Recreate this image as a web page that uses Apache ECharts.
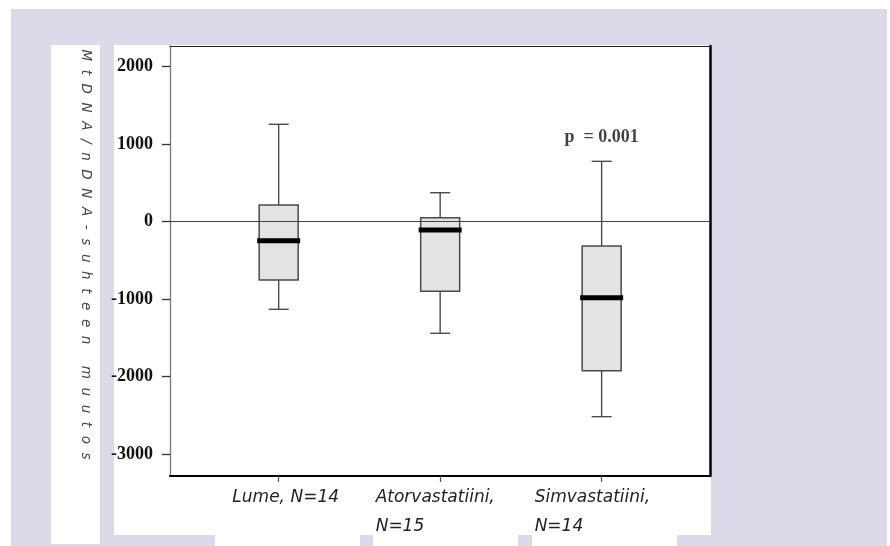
<!DOCTYPE html>
<html>
<head>
<meta charset="utf-8">
<script src="https://cdn.jsdelivr.net/npm/echarts@6/dist/echarts.min.js"></script>
<style>html,body{margin:0;padding:0;background:#fff;}#c{width:890px;height:546px;}</style>
</head>
<body>
<div id="c"></div>
<script>
// ---- data ----
var categories = ['Lume, N=14', 'Atorvastatiini,\nN=15', 'Simvastatiini,\nN=14'];
var positions = [1, 2, 3];
var whiskerLow = [-1134, -1443, -2520];
var q1 = [-755, -901, -1926];
var median = [-248, -110, -984];
var q3 = [213, 49, -316];
var whiskerHigh = [1255, 372, 777];
var yTicks = [-3000, -2000, -1000, 0, 1000, 2000];
var pText = 'p  = 0.001';
var pPos = [3, 1091];
var yTitle = 'MtDNA/nDNA-suhteen muutos';

var rows = positions.map(function (p, i) {
  return [p, whiskerLow[i], q1[i], median[i], q3[i], whiskerHigh[i]];
});

var tags = ['l', 'a', 's'];
var sansI = {fontFamily: 'DejaVu Sans', fontStyle: 'italic', fontSize: 17, color: '#222', lineHeight: 29};

var chart = echarts.init(document.getElementById('c'), null, {renderer: 'canvas'});
var Y_MIN = -3286, Y_MAX = 2266, X_MIN = 0.327, X_MAX = 3.671;

var option = {
  backgroundColor: '#ffffff',
  animation: false,
  graphic: {
    elements: [
      {type: 'rect', z: -10, silent: true, shape: {x: 11, y: 9, width: 876, height: 537}, style: {fill: '#dcd9e8'}},
      {type: 'rect', z: -9, silent: true, shape: {x: 51, y: 45, width: 49, height: 499}, style: {fill: '#ffffff'}},
      {type: 'rect', z: -9, silent: true, shape: {x: 114, y: 45, width: 597, height: 490}, style: {fill: '#ffffff'}},
      {type: 'rect', z: -9, silent: true, shape: {x: 215, y: 534, width: 145, height: 12}, style: {fill: '#ffffff'}},
      {type: 'rect', z: -9, silent: true, shape: {x: 373, y: 534, width: 145, height: 12}, style: {fill: '#ffffff'}},
      {type: 'rect', z: -9, silent: true, shape: {x: 532, y: 534, width: 145, height: 12}, style: {fill: '#ffffff'}}
    ]
  },
  grid: {left: 170, top: 46, right: 180, bottom: 70, containLabel: false},
  xAxis: [{
    type: 'value', min: X_MIN, max: X_MAX, position: 'bottom',
    axisLine: {show: true, onZero: false, lineStyle: {color: '#000', width: 2}},
    axisTick: {show: true, length: 6, customValues: positions, lineStyle: {color: '#555', width: 1.2}},
    splitLine: {show: false},
    axisLabel: {
      show: true, margin: 7, customValues: positions,
      formatter: function (v) {
        var i = Math.round(v) - 1;
        var t = tags[i];
        return categories[i].split('\n').map(function (s) { return '{' + t + '|' + s + '}'; }).join('\n');
      },
      rich: {
        l: Object.assign({}, sansI, {padding: [0, 0, 0, 14]}),
        a: Object.assign({}, sansI, {width: 129, align: 'left'}),
        s: Object.assign({}, sansI, {width: 134, align: 'left'})
      }
    }
  }, {
    type: 'value', min: X_MIN, max: X_MAX, position: 'top',
    axisLine: {show: true, onZero: false, lineStyle: {color: '#222', width: 1}},
    axisTick: {show: false}, axisLabel: {show: false}, splitLine: {show: false}
  }],
  yAxis: [{
    type: 'value', min: Y_MIN, max: Y_MAX, position: 'left',
    name: yTitle.split('').join('  ') + '   ',
    nameLocation: 'middle', nameRotate: -90, nameGap: 78,
    nameTextStyle: {fontFamily: 'DejaVu Sans', fontStyle: 'italic', fontSize: 13.5, color: '#444'},
    axisLine: {show: true, onZero: false, lineStyle: {color: '#777', width: 1.3}},
    axisTick: {show: true, length: 8, customValues: yTicks, lineStyle: {color: '#333', width: 1.3}},
    splitLine: {show: false},
    axisLabel: {
      show: true, margin: 17, customValues: yTicks,
      formatter: function (v) { return String(v); },
      fontFamily: 'Liberation Serif', fontWeight: 'bold', fontSize: 18, color: '#111'
    }
  }, {
    type: 'value', min: Y_MIN, max: Y_MAX, position: 'right',
    axisLine: {show: true, onZero: false, lineStyle: {color: '#000', width: 2.5}},
    axisTick: {show: false}, axisLabel: {show: false}, splitLine: {show: false}
  }],
  series: [{
    type: 'custom',
    z: 2,
    xAxisIndex: 0, yAxisIndex: 0,
    data: rows,
    encode: {x: 0, y: [1, 2, 3, 4, 5]},
    renderItem: function (params, api) {
      var x = api.value(0);
      var lo = api.coord([x, api.value(1)]);
      var b1 = api.coord([x, api.value(2)]);
      var md = api.coord([x, api.value(3)]);
      var b3 = api.coord([x, api.value(4)]);
      var hi = api.coord([x, api.value(5)]);
      var cx = lo[0];
      var boxW = 39, capW = 20, medW = 43, medH = 5;
      var ls = {stroke: '#4a4a4a', lineWidth: 1.4};
      return {
        type: 'group',
        children: [
          {type: 'line', shape: {x1: cx, y1: b3[1], x2: cx, y2: hi[1]}, style: ls},
          {type: 'line', shape: {x1: cx, y1: b1[1], x2: cx, y2: lo[1]}, style: ls},
          {type: 'line', shape: {x1: cx - capW / 2, y1: hi[1], x2: cx + capW / 2, y2: hi[1]}, style: ls},
          {type: 'line', shape: {x1: cx - capW / 2, y1: lo[1], x2: cx + capW / 2, y2: lo[1]}, style: ls},
          {type: 'rect', shape: {x: cx - boxW / 2, y: b3[1], width: boxW, height: b1[1] - b3[1]},
            style: {fill: '#e3e3e3', stroke: '#4a4a4a', lineWidth: 1.5}},
          {type: 'rect', z2: 10, shape: {x: cx - medW / 2, y: md[1] - medH / 2, width: medW, height: medH},
            style: {fill: '#000'}}
        ]
      };
    }
  }, {
    type: 'scatter',
    z: 5,
    xAxisIndex: 0, yAxisIndex: 0,
    symbolSize: 0,
    data: [pPos],
    label: {
      show: true, position: 'inside', formatter: pText,
      fontFamily: 'Liberation Serif', fontWeight: 'bold', fontSize: 18, color: '#111'
    },
    markLine: {
      silent: true, symbol: 'none',
      label: {show: false},
      lineStyle: {color: '#444', width: 1, type: 'solid'},
      data: [{yAxis: 0}]
    }
  }]
};
chart.setOption(option);
</script>
</body>
</html>
